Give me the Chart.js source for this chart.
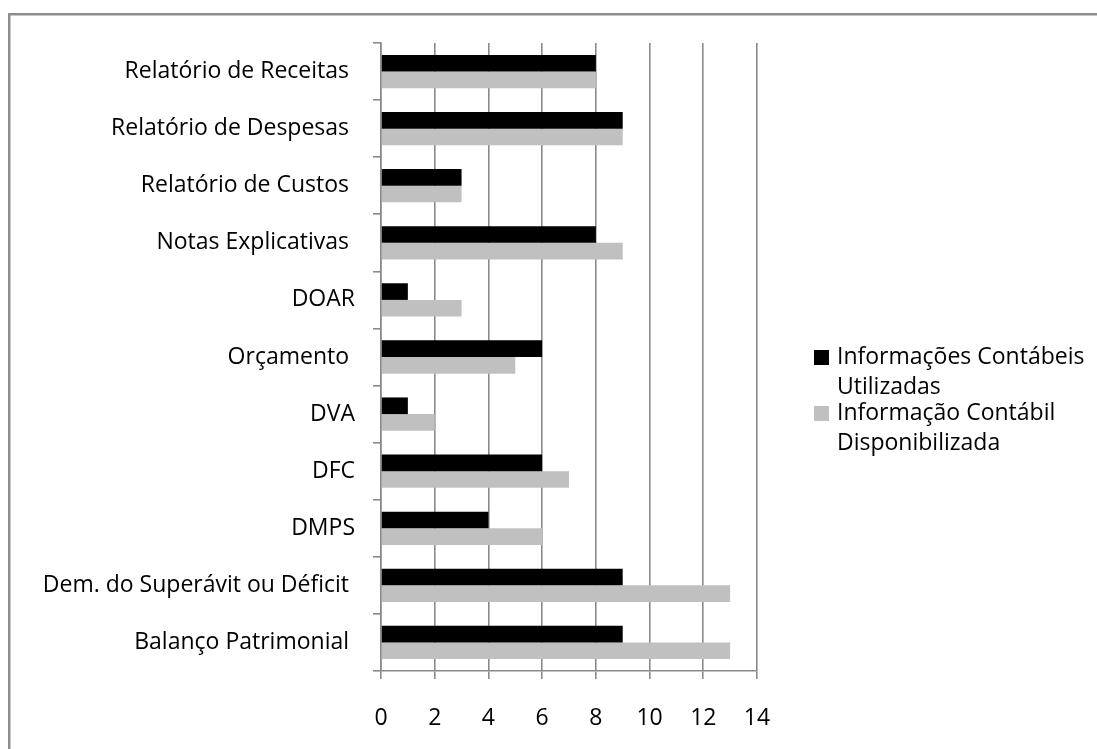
<!DOCTYPE html>
<html>
<head>
<meta charset="utf-8">
<script src="https://cdn.jsdelivr.net/npm/chart.js@4.4.1/dist/chart.umd.min.js"></script>
<style>
  html, body { margin: 0; padding: 0; background: #fff; }
  #wrap { position: relative; width: 1097px; height: 749px; }
  canvas { display: block; }
</style>
</head>
<body>
<div id="wrap"><canvas id="c" width="1097" height="749"></canvas></div>
<script>
// ---- data ----
const categories = [
  "Relatório de Receitas ",
  "Relatório de Despesas ",
  "Relatório de Custos ",
  "Notas Explicativas ",
  "DOAR",
  "Orçamento ",
  "DVA",
  "DFC",
  "DMPS",
  "Dem. do Superávit ou Déficit ",
  "Balanço Patrimonial "
];
const seriesNames = [
  "Informações Contábeis Utilizadas",
  "Informação Contábil Disponibilizada"
];
const utilizadas      = [8, 9, 3, 8, 1, 6, 1, 6, 4, 9, 9];
const disponibilizada = [8, 9, 3, 9, 3, 5, 2, 7, 6, 13, 13];
const xTicks = [0, 2, 4, 6, 8, 10, 12, 14];

const FONT = "'Open Sans', 'Noto Sans', sans-serif";
const FSIZE = 23;
const GRID = '#8a8a8a';

const framePlugin = {
  id: 'frame',
  beforeDraw(chart) {
    const ctx = chart.ctx;
    ctx.save();
    ctx.fillStyle = '#fff';
    ctx.fillRect(0, 0, chart.width, chart.height);
    ctx.fillStyle = '#8e8e8e';
    ctx.fillRect(8, 13, 2.5, chart.height);
    ctx.fillRect(8, 13, chart.width, 2.5);
    ctx.restore();
  }
};

const legendPlugin = {
  id: 'sideLegend',
  afterDraw(chart) {
    const ctx = chart.ctx;
    const area = chart.chartArea;
    ctx.save();
    ctx.font = FSIZE + 'px ' + FONT;
    ctx.textAlign = 'left';
    ctx.textBaseline = 'middle';
    const boxX = area.right + 57;
    const textX = area.right + 80;
    const maxW = 258;
    const lineH = 30;
    const starts = [357, 413];
    chart.data.datasets.forEach((ds, i) => {
      const words = ds.label.split(' ');
      const lines = [];
      let cur = '';
      words.forEach(w => {
        const t = cur ? cur + ' ' + w : w;
        if (cur && ctx.measureText(t).width > maxW) { lines.push(cur); cur = w; }
        else cur = t;
      });
      if (cur) lines.push(cur);
      const y0 = starts[i];
      ctx.fillStyle = ds.backgroundColor;
      ctx.fillRect(boxX, y0 - 7, 15, 15);
      ctx.fillStyle = '#000';
      lines.forEach((ln, k) => ctx.fillText(ln, textX, y0 + k * lineH));
    });
    ctx.restore();
  }
};

new Chart(document.getElementById('c'), {
  type: 'bar',
  data: {
    labels: categories,
    datasets: [
      { label: seriesNames[0], data: utilizadas, backgroundColor: '#000000',
        categoryPercentage: 0.583, barPercentage: 1.0 },
      { label: seriesNames[1], data: disponibilizada, backgroundColor: '#c0c0c0',
        categoryPercentage: 0.583, barPercentage: 1.0 }
    ]
  },
  options: {
    indexAxis: 'y',
    responsive: false,
    animation: false,
    devicePixelRatio: 1,
    layout: { padding: { top: 43, right: 340, bottom: 0, left: 0 } },
    plugins: {
      legend: { display: false },
      tooltip: { enabled: false }
    },
    scales: {
      x: {
        min: 0, max: 14,
        afterBuildTicks(scale) { scale.ticks = xTicks.map(v => ({ value: v })); },
        afterFit(scale) { scale.height = 78; },
        grid: { display: true, color: GRID, lineWidth: 1.6, drawOnChartArea: true,
                drawTicks: true, tickLength: 8, tickColor: GRID },
        border: { display: true, color: GRID, width: 1.6 },
        ticks: { color: '#000', font: { family: FONT, size: FSIZE }, padding: 26,
                 maxRotation: 0, autoSkip: false }
      },
      y: {
        afterFit(scale) { scale.width = 381; },
        grid: { display: true, color: GRID, lineWidth: 1.6, drawOnChartArea: false,
                drawTicks: true, tickLength: 8, tickColor: GRID, offset: true },
        border: { display: true, color: GRID, width: 1.6 },
        ticks: { color: '#000', font: { family: FONT, size: FSIZE }, padding: 18,
                 autoSkip: false }
      }
    }
  },
  plugins: [framePlugin, legendPlugin]
});
</script>
</body>
</html>
